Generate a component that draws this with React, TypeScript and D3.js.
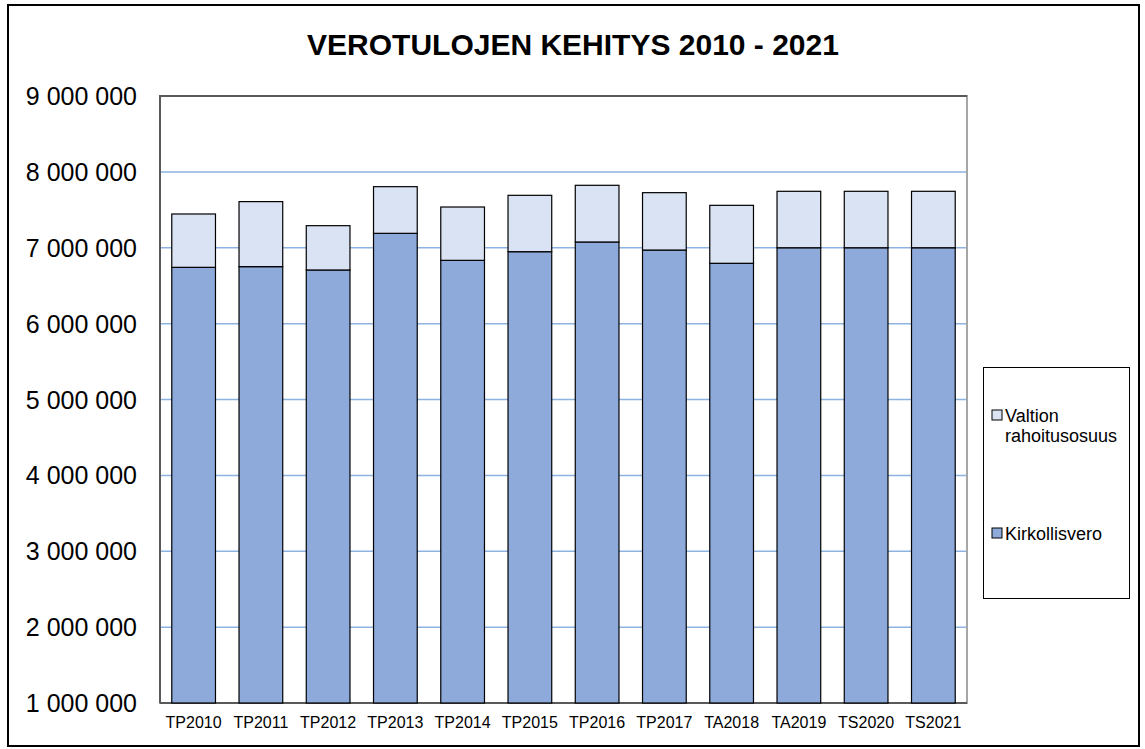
import React, { useEffect, useRef } from "react";
import * as d3 from "d3";

const categories = ["TP2010", "TP2011", "TP2012", "TP2013", "TP2014", "TP2015", "TP2016", "TP2017", "TA2018", "TA2019", "TS2020", "TS2021"];
const kirkollisvero = [6742000, 6751000, 6707000, 7190000, 6834000, 6948000, 7076000, 6970000, 6795000, 7000000, 7000000, 7000000];
const valtionOsuus = [703000, 857000, 584000, 615000, 703000, 743000, 747000, 756000, 764000, 744000, 744000, 744000];
const yTicks = [1000000, 2000000, 3000000, 4000000, 5000000, 6000000, 7000000, 8000000, 9000000];
const seriesNames = ["Valtion rahoitusosuus", "Kirkollisvero"];

export default function App() {
  const ref = useRef<SVGSVGElement>(null);

  useEffect(() => {
    const svg = d3.select(ref.current);
    svg.selectAll("*").remove();

    const width = 1145;
    const height = 749;
    const margin = { top: 96, left: 160, right: 178, bottom: 46 };
    const iwidth = width - margin.left - margin.right;
    const iheight = height - margin.top - margin.bottom;
    const font = "Arial, 'Liberation Sans', sans-serif";

    // outer frame
    svg.append("rect")
      .attr("x", 8).attr("y", 5).attr("width", 1131).attr("height", 741)
      .attr("fill", "white").attr("stroke", "black").attr("stroke-width", 2);

    svg.append("text")
      .attr("x", 573).attr("y", 55)
      .attr("text-anchor", "middle")
      .style("font-family", font).style("font-size", "30px").style("font-weight", "bold")
      .text("VEROTULOJEN KEHITYS 2010 - 2021");

    const g = svg.append("g").attr("transform", `translate(${margin.left},${margin.top})`);

    const y = d3.scaleLinear().domain([1000000, 9000000]).range([iheight, 0]);
    const x = d3.scaleBand().domain(categories).range([0, iwidth]).paddingInner(0.35).paddingOuter(0.175);

    // gridlines
    g.selectAll("line.grid").data(yTicks.slice(1, -1)).enter().append("line")
      .attr("class", "grid")
      .attr("x1", 0).attr("x2", iwidth)
      .attr("y1", d => y(d)).attr("y2", d => y(d))
      .attr("stroke", "#8db3e2").attr("stroke-width", 1.5);

    // plot frame
    g.append("rect").attr("x", 0).attr("y", 0).attr("width", iwidth).attr("height", iheight)
      .attr("fill", "none").attr("stroke", "#a6a6a6").attr("stroke-width", 2);
    g.append("path").attr("d", `M0,${iheight}V0H${iwidth}`)
      .attr("fill", "none").attr("stroke", "#595959").attr("stroke-width", 2);
    g.append("line").attr("x1", 0).attr("x2", iwidth).attr("y1", iheight).attr("y2", iheight)
      .attr("stroke", "#595959").attr("stroke-width", 2);

    const stacked = categories.map((c, i) => ({
      name: c,
      k: kirkollisvero[i],
      v: valtionOsuus[i],
    }));

    const bars = g.selectAll("g.bar").data(stacked).enter().append("g").attr("class", "bar");
    bars.append("rect")
      .attr("x", d => x(d.name)!)
      .attr("y", d => y(d.k))
      .attr("width", x.bandwidth())
      .attr("height", d => iheight - y(d.k))
      .attr("fill", "#8eaadb").attr("stroke", "black").attr("stroke-width", 1.2);
    bars.append("rect")
      .attr("x", d => x(d.name)!)
      .attr("y", d => y(d.k + d.v))
      .attr("width", x.bandwidth())
      .attr("height", d => y(d.k) - y(d.k + d.v))
      .attr("fill", "#dae3f3").attr("stroke", "black").attr("stroke-width", 1.2);

    // y axis labels
    const fmt = (d: number) => d3.format(",")(d).replace(/,/g, " ");
    g.selectAll("text.ytick").data(yTicks).enter().append("text")
      .attr("class", "ytick")
      .attr("x", -23).attr("y", d => y(d) + 9)
      .attr("text-anchor", "end")
      .style("font-family", font).style("font-size", "25px")
      .text(d => fmt(d));

    // x axis labels
    g.selectAll("text.xtick").data(categories).enter().append("text")
      .attr("class", "xtick")
      .attr("x", d => x(d)! + x.bandwidth() / 2).attr("y", iheight + 25)
      .attr("text-anchor", "middle")
      .style("font-family", font).style("font-size", "16px")
      .text(d => d);

    // legend
    const lg = svg.append("g");
    lg.append("rect").attr("x", 983.5).attr("y", 367.5).attr("width", 146).attr("height", 231)
      .attr("fill", "white").attr("stroke", "black").attr("stroke-width", 1);
    const legendColors = ["#dae3f3", "#8eaadb"];
    const legendY = [410, 528];
    seriesNames.forEach((name, i) => {
      lg.append("rect").attr("x", 992).attr("y", legendY[i]).attr("width", 10).attr("height", 10)
        .attr("fill", legendColors[i]).attr("stroke", "black").attr("stroke-width", 1);
      const t = lg.append("text")
        .attr("x", 1005).attr("y", legendY[i] + 12)
        .style("font-family", font).style("font-size", "18px");
      const parts = i === 0 ? ["Valtion", "rahoitusosuus"] : [name];
      parts.forEach((p, j) => {
        t.append("tspan").attr("x", 1005).attr("dy", j === 0 ? 0 : 20).text(p);
      });
    });
  }, []);

  return (
    <svg ref={ref} width={1145} height={749}
      style={{ position: "absolute", left: 0, top: 0, background: "white" }} />
  );
}
